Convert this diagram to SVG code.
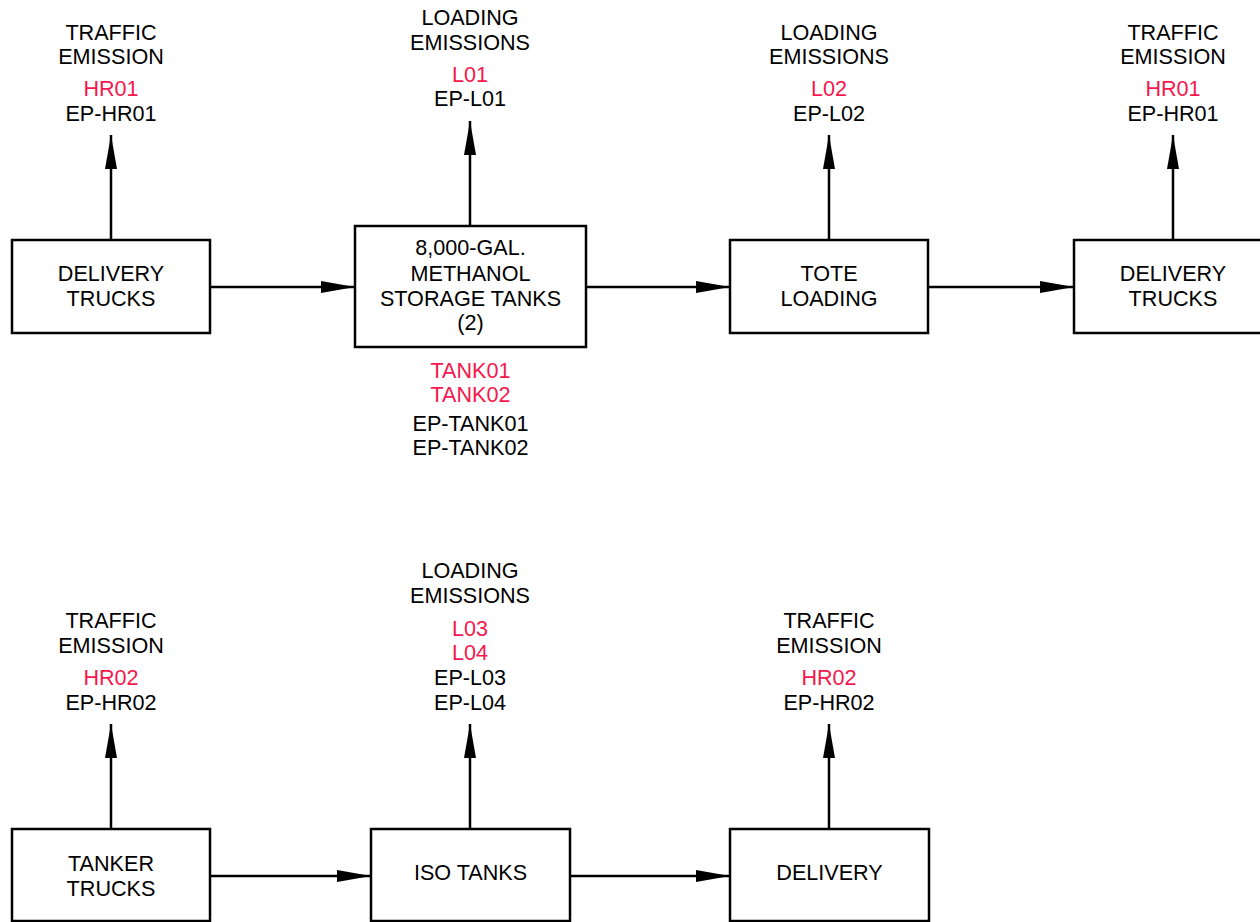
<svg xmlns="http://www.w3.org/2000/svg" width="1260" height="922" viewBox="0 0 1260 922">
<style>
.box{fill:#fff;stroke:#000;stroke-width:2.5}
.t{font-family:"Liberation Sans",Arial,sans-serif;font-size:21.6px;fill:#000;text-anchor:middle}
.r{fill:#f5174d}
.c{stroke:#000;stroke-width:2.5;fill:none;marker-end:url(#ah)}
</style>
<defs>
<marker id="ah" markerUnits="userSpaceOnUse" markerWidth="34" markerHeight="12" refX="34" refY="6" orient="auto" overflow="visible">
<path d="M0,0 L34,6 L0,12 z" fill="#000"/>
</marker>
</defs>
<rect width="1260" height="922" fill="#fff"/>
<g id="connectors">
<line class="c" x1="210" y1="287" x2="355" y2="287"/>
<line class="c" x1="586" y1="287" x2="730" y2="287"/>
<line class="c" x1="928" y1="287" x2="1074" y2="287"/>
<line class="c" x1="111" y1="240" x2="111" y2="135"/>
<line class="c" x1="470" y1="226" x2="470" y2="121"/>
<line class="c" x1="829" y1="240" x2="829" y2="135"/>
<line class="c" x1="1173" y1="240" x2="1173" y2="135"/>
<line class="c" x1="210" y1="876" x2="371" y2="876"/>
<line class="c" x1="570" y1="876" x2="730" y2="876"/>
<line class="c" x1="111" y1="829" x2="111" y2="724"/>
<line class="c" x1="470" y1="829" x2="470" y2="724"/>
<line class="c" x1="829" y1="829" x2="829" y2="724"/>
</g>
<g id="delivery-trucks-1">
<rect class="box" x="12" y="240" width="198" height="93"/>
<text class="t" x="111" y="281">DELIVERY</text>
<text class="t" x="111" y="306">TRUCKS</text>
</g>
<g id="storage-tanks">
<rect class="box" x="355" y="226" width="231" height="121"/>
<text class="t" x="470.5" y="255">8,000-GAL.</text>
<text class="t" x="470.5" y="280.5">METHANOL</text>
<text class="t" x="470.5" y="305.5">STORAGE TANKS</text>
<text class="t" x="470.5" y="330">(2)</text>
</g>
<g id="tote-loading">
<rect class="box" x="730" y="240" width="198" height="93"/>
<text class="t" x="829" y="281">TOTE</text>
<text class="t" x="829" y="306">LOADING</text>
</g>
<g id="delivery-trucks-2">
<rect class="box" x="1074" y="240" width="198" height="93"/>
<text class="t" x="1173" y="281">DELIVERY</text>
<text class="t" x="1173" y="306">TRUCKS</text>
</g>
<g id="tanker-trucks">
<rect class="box" x="12" y="829" width="198" height="92"/>
<text class="t" x="111" y="871">TANKER</text>
<text class="t" x="111" y="896">TRUCKS</text>
</g>
<g id="iso-tanks">
<rect class="box" x="371" y="829" width="199" height="92"/>
<text class="t" x="470.5" y="880">ISO TANKS</text>
</g>
<g id="delivery">
<rect class="box" x="730" y="829" width="199" height="92"/>
<text class="t" x="829.5" y="880">DELIVERY</text>
</g>
<g id="label-traffic-1">
<text class="t" x="111" y="39.5">TRAFFIC</text>
<text class="t" x="111" y="64">EMISSION</text>
<text class="t r" x="111" y="96">HR01</text>
<text class="t" x="111" y="120.5">EP-HR01</text>
</g>
<g id="label-loading-1">
<text class="t" x="470" y="25">LOADING</text>
<text class="t" x="470" y="50">EMISSIONS</text>
<text class="t r" x="470" y="82">L01</text>
<text class="t" x="470" y="106">EP-L01</text>
</g>
<g id="label-loading-2">
<text class="t" x="829" y="39.5">LOADING</text>
<text class="t" x="829" y="64">EMISSIONS</text>
<text class="t r" x="829" y="96">L02</text>
<text class="t" x="829" y="120.5">EP-L02</text>
</g>
<g id="label-traffic-2">
<text class="t" x="1173" y="39.5">TRAFFIC</text>
<text class="t" x="1173" y="64">EMISSION</text>
<text class="t r" x="1173" y="96">HR01</text>
<text class="t" x="1173" y="120.5">EP-HR01</text>
</g>
<g id="label-tanks">
<text class="t r" x="470.5" y="378">TANK01</text>
<text class="t r" x="470.5" y="402">TANK02</text>
<text class="t" x="470.5" y="431">EP-TANK01</text>
<text class="t" x="470.5" y="455">EP-TANK02</text>
</g>
<g id="label-traffic-3">
<text class="t" x="111" y="628">TRAFFIC</text>
<text class="t" x="111" y="653">EMISSION</text>
<text class="t r" x="111" y="685">HR02</text>
<text class="t" x="111" y="710">EP-HR02</text>
</g>
<g id="label-loading-3">
<text class="t" x="470" y="578">LOADING</text>
<text class="t" x="470" y="603">EMISSIONS</text>
<text class="t r" x="470" y="636">L03</text>
<text class="t r" x="470" y="660">L04</text>
<text class="t" x="470" y="685">EP-L03</text>
<text class="t" x="470" y="710">EP-L04</text>
</g>
<g id="label-traffic-4">
<text class="t" x="829" y="628">TRAFFIC</text>
<text class="t" x="829" y="653">EMISSION</text>
<text class="t r" x="829" y="685">HR02</text>
<text class="t" x="829" y="710">EP-HR02</text>
</g>
</svg>
